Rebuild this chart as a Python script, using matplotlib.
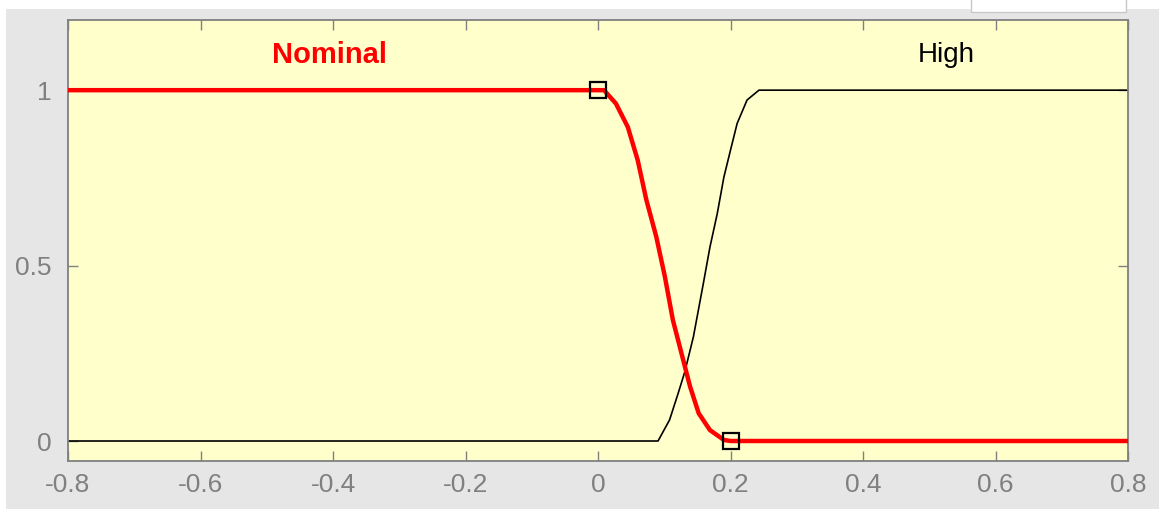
import matplotlib.pyplot as plt
from matplotlib.patches import Rectangle

# membership functions, read as (x, mu) points
nominal_x = [-0.8, 0.0, 0.009, 0.027, 0.045, 0.060, 0.073, 0.088, 0.101,
             0.113, 0.126, 0.139, 0.152, 0.169, 0.190, 0.2, 0.8]
nominal_y = [1.0, 1.0, 1.0, 0.962, 0.895, 0.80, 0.687, 0.582, 0.468,
             0.345, 0.25, 0.155, 0.079, 0.031, 0.003, 0.0, 0.0]

high_x = [-0.8, 0.0906, 0.108, 0.121, 0.131, 0.144, 0.159, 0.169, 0.180,
          0.190, 0.200, 0.210, 0.225, 0.243, 0.8]
high_y = [0.0, 0.0, 0.06, 0.136, 0.197, 0.297, 0.449, 0.553, 0.648,
          0.752, 0.829, 0.905, 0.972, 1.0, 1.0]

# selected function handles (end points of Nominal)
handle_x = [0.0, 0.2]
handle_y = [1.0, 0.0]

mf_names = ['Nominal', 'High']
label_x = [-0.406, 0.525]
label_y = [1.1, 1.1]

x_ticks = [-0.8, -0.6, -0.4, -0.2, 0, 0.2, 0.4, 0.6, 0.8]
y_ticks = [0, 0.5, 1]

W, H = 1159, 509
fig = plt.figure(figsize=(W / 100, H / 100), dpi=100, facecolor='white')
plt.rcParams['font.family'] = ['Liberation Sans', 'DejaVu Sans']

# grey panel behind the axes, plus the edge of a widget above it
fig.patches.append(Rectangle((6 / W, 0), 1 - 6 / W, (H - 9) / H,
                             transform=fig.transFigure, facecolor='#e6e6e6',
                             edgecolor='none', zorder=-2))
fig.patches.append(Rectangle((971 / W, (H - 12) / H), 155 / W, 14 / H,
                             transform=fig.transFigure, facecolor='white',
                             edgecolor='#c8c8c8', linewidth=1, zorder=-1))

ax = fig.add_axes([68 / W, 48 / H, 1060 / W, 441 / H])
ax.set_facecolor('#ffffcc')

ax.plot(high_x, high_y, color='black', linewidth=1.2, zorder=2)
ax.plot(nominal_x, nominal_y, color='#ff0000', linewidth=3.2, zorder=3)
ax.plot(handle_x, handle_y, linestyle='none', marker='s', markersize=11.5,
        markerfacecolor='none', markeredgecolor='black', markeredgewidth=1.6,
        zorder=4)

ax.text(label_x[0], label_y[0], mf_names[0], color='#ff0000', fontsize=21,
        fontweight='bold', ha='center', va='center')
ax.text(label_x[1], label_y[1], mf_names[1], color='black', fontsize=20,
        ha='center', va='center')

ax.set_xlim(-0.8, 0.8)
ax.set_ylim(-0.057, 1.2)
ax.set_xticks(x_ticks)
ax.set_xticklabels([f'{t:g}' for t in x_ticks])
ax.set_yticks(y_ticks)
ax.set_yticklabels([f'{t:g}' for t in y_ticks])

grey = '#808080'
for side in ax.spines.values():
    side.set_color(grey)
    side.set_linewidth(1.3)
ax.tick_params(direction='in', length=7, width=1, color=grey,
               labelcolor=grey, labelsize=19, top=True, right=True)
ax.tick_params(axis='x', pad=9)
ax.tick_params(axis='y', pad=12)

fig.savefig('out.png', dpi=100, facecolor=fig.get_facecolor())
